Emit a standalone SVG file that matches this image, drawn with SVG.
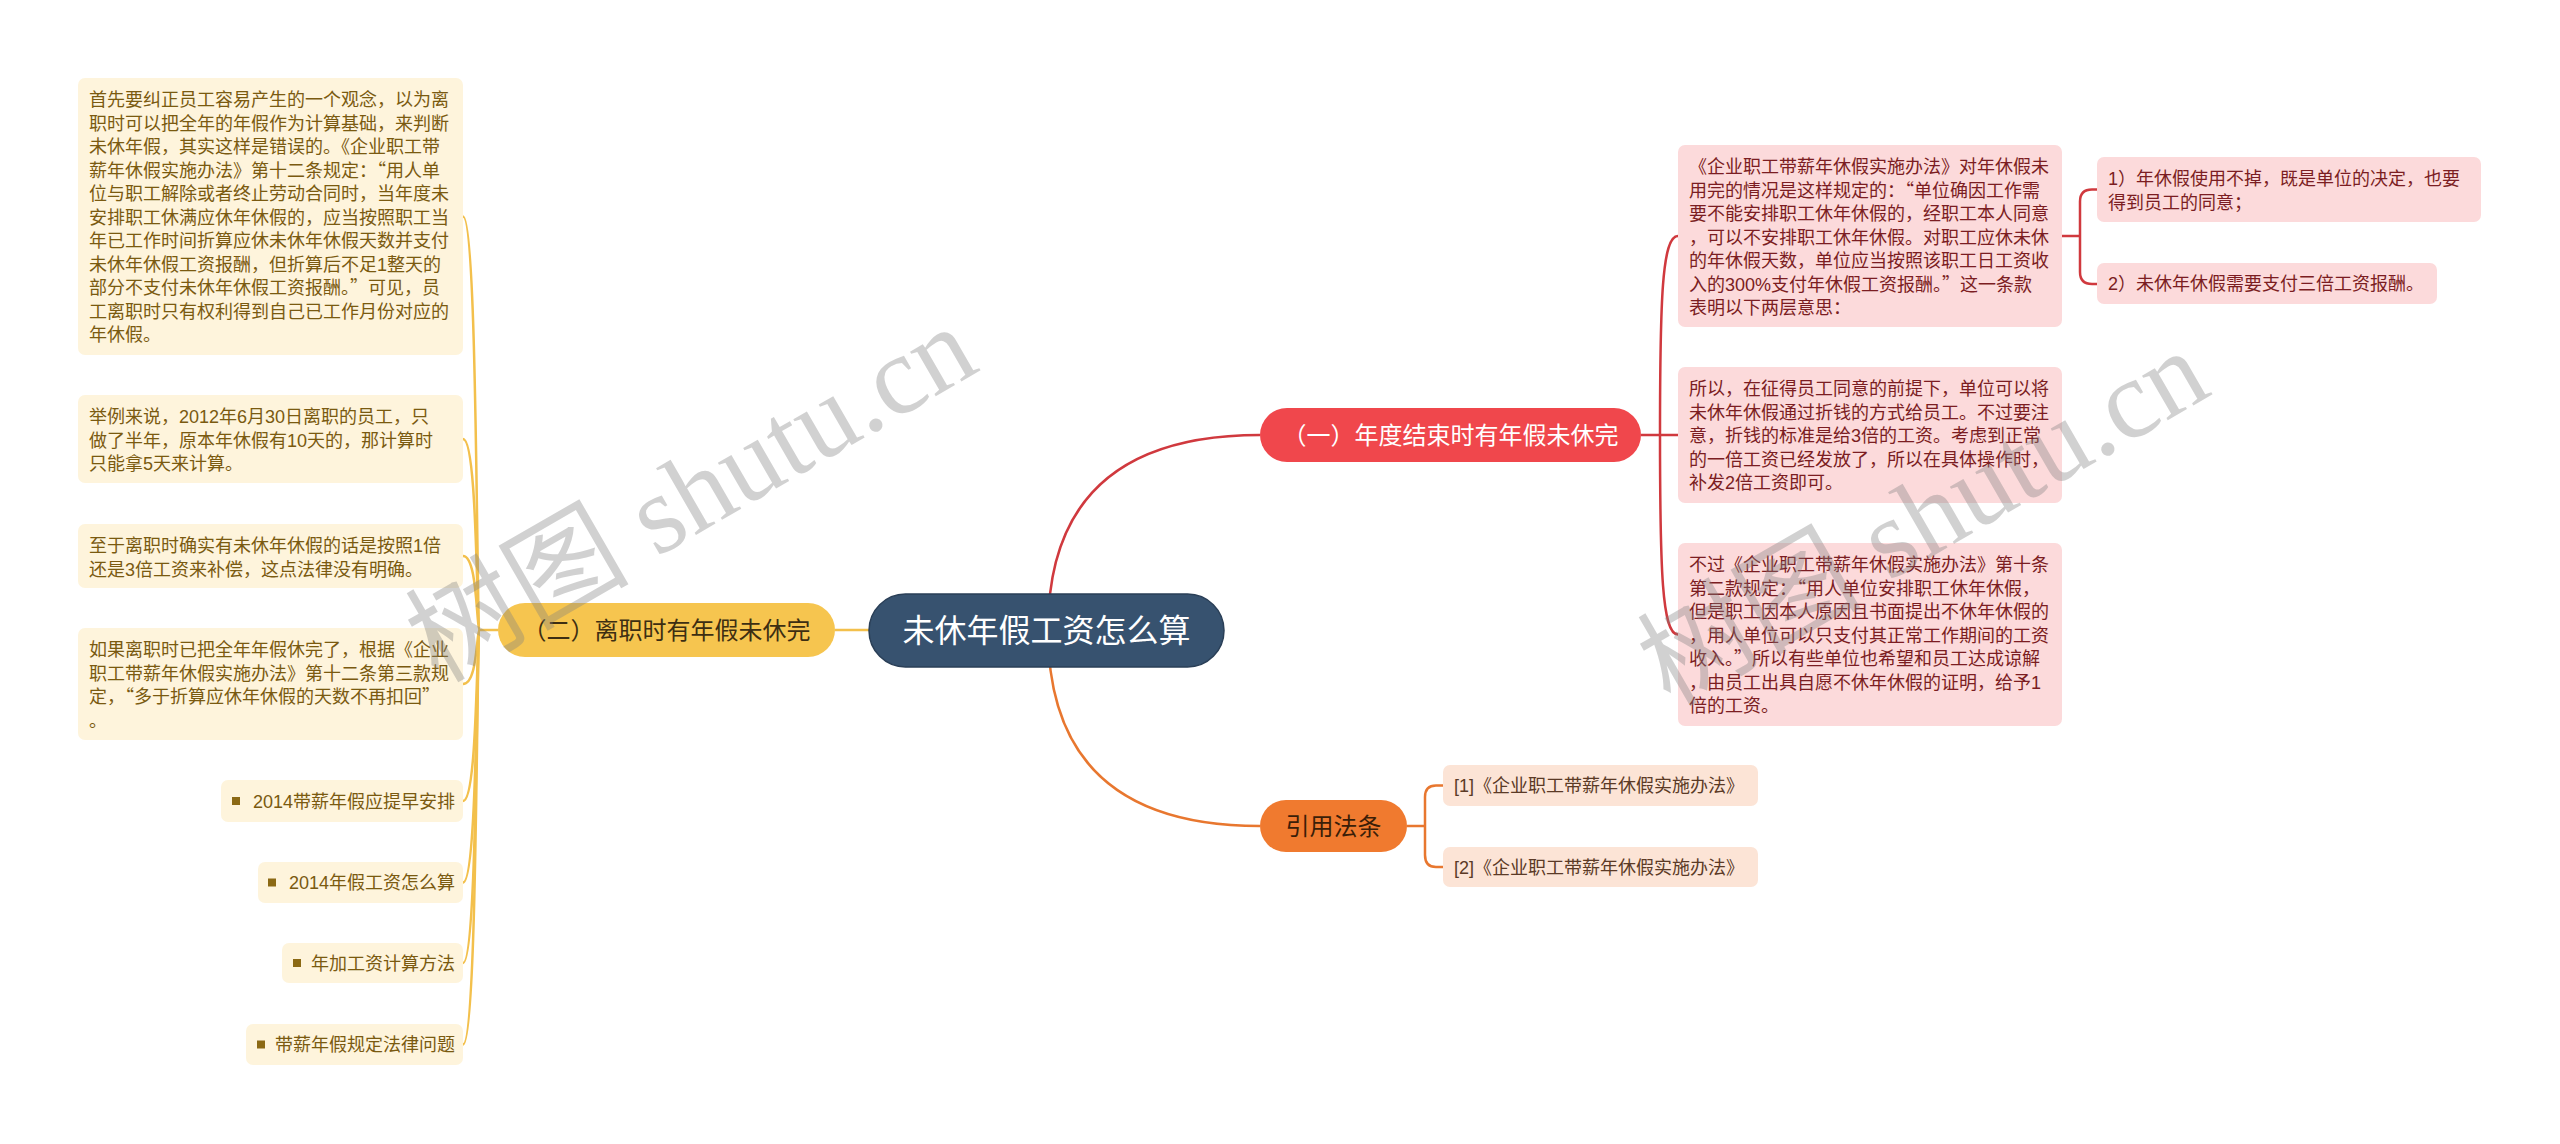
<svg xmlns="http://www.w3.org/2000/svg" width="2560" height="1144" viewBox="0 0 2560 1144">
<style>
text{font-family:"Liberation Sans","Noto Sans CJK SC",sans-serif;}
.q{font-family:"Noto Sans CJK SC",sans-serif;}
.t18{font-size:18px;}
.yc rect.box{fill:#FEF4DC;}
.yc text{fill:#7A5A10;}
.bul{fill:#8B6914;}
.rc rect{fill:#FCDADB;}
.rc text{fill:#7B1D22;}
.oc rect{fill:#FCE4D6;}
.oc text{fill:#5B3A26;}
.cy{fill:none;stroke:#F3C04C;stroke-width:2.5;}
.cr{fill:none;stroke:#D0393E;stroke-width:2.5;}
.co{fill:none;stroke:#E8772F;stroke-width:2.5;}
.wm{font-family:"Liberation Serif","Noto Sans CJK SC",serif;font-size:112px;fill:#7f7f7f;fill-opacity:0.36;}
</style>
<rect width="2560" height="1144" fill="#ffffff"/>

<g id="connectors">
  <path class="cy" stroke-width="3" d="M869,630 L835,630"/>
  <path class="cr" stroke="#D83A3A" stroke-width="3" d="M1048,630 Q1048,435 1260,435"/>
  <path class="co" stroke-width="3" d="M1048,630 Q1048,826 1260,826"/>
  <!-- yellow branch -->
  <path class="cy" d="M498,630 H480"/>
  <path class="cy" d="M480,630 C476,630 478,216.5 463,216.5"/>
  <path class="cy" d="M480,630 C476,630 478,439 463,439"/>
  <path class="cy" d="M480,630 C476,630 478,556 463,556"/>
  <path class="cy" d="M480,630 C476,630 478,684 463,684"/>
  <path class="cy" d="M480,630 C476,630 478,801 463,801"/>
  <path class="cy" d="M480,630 C476,630 478,882.5 463,882.5"/>
  <path class="cy" d="M480,630 C476,630 478,963 463,963"/>
  <path class="cy" d="M480,630 C476,630 478,1044.5 463,1044.5"/>
  <!-- red branch -->
  <path class="cr" d="M1641,435 H1678"/>
  <path class="cr" d="M1660,435 C1660,300 1662,236 1678,236"/>
  <path class="cr" d="M1660,435 C1660,570 1662,634.5 1678,634.5"/>
  <path class="cr" d="M2062,236 H2080"/>
  <path class="cr" d="M2080,236 V201.5 Q2080,189.5 2092,189.5 H2097"/>
  <path class="cr" d="M2080,236 V272 Q2080,284 2092,284 H2097"/>
  <!-- orange branch -->
  <path class="co" d="M1407,826 H1425"/>
  <path class="co" d="M1425,826 V797 Q1425,785.5 1436,785.5 H1443"/>
  <path class="co" d="M1425,826 V855 Q1425,867 1436,867 H1443"/>
</g>

<g id="root">
  <rect x="869" y="594" width="355" height="73" rx="36.5" fill="#37526F" stroke="#2A3F57" stroke-width="1.5"/>
  <text x="1046.5" y="641.5" font-size="32" fill="#ffffff" text-anchor="middle">未休年假工资怎么算</text>
</g>

<g id="branch-2">
  <rect x="498" y="603" width="337" height="54" rx="27" fill="#F6C54F"/>
  <text x="666.5" y="638.5" font-size="24" fill="#3D2E12" text-anchor="middle">（二）离职时有年假未休完</text>
</g>
<g id="branch-1">
  <rect x="1260" y="408" width="381" height="54" rx="27" fill="#F0474C"/>
  <text x="1450.5" y="443.5" font-size="24" fill="#ffffff" text-anchor="middle">（一）年度结束时有年假未休完</text>
</g>
<g id="branch-3">
  <rect x="1260" y="800" width="147" height="52" rx="26" fill="#F07A2F"/>
  <text x="1333.5" y="834.5" font-size="24" fill="#3B1E08" text-anchor="middle">引用法条</text>
</g>

<g id="a1" class="yc">
  <rect class="box" x="78" y="78" width="385" height="277" rx="7"/>
  <text class="t18" x="89" y="106">
    <tspan x="89">首先要纠正员工容易产生的一个观念，以为离</tspan>
    <tspan x="89" dy="23.5">职时可以把全年的年假作为计算基础，来判断</tspan>
    <tspan x="89" dy="23.5">未休年假，其实这样是错误的。《企业职工带</tspan>
    <tspan x="89" dy="23.5">薪年休假实施办法》第十二条规定：<tspan class="q">“</tspan>用人单</tspan>
    <tspan x="89" dy="23.5">位与职工解除或者终止劳动合同时，当年度未</tspan>
    <tspan x="89" dy="23.5">安排职工休满应休年休假的，应当按照职工当</tspan>
    <tspan x="89" dy="23.5">年已工作时间折算应休未休年休假天数并支付</tspan>
    <tspan x="89" dy="23.5">未休年休假工资报酬，但折算后不足1整天的</tspan>
    <tspan x="89" dy="23.5">部分不支付未休年休假工资报酬。<tspan class="q">”</tspan>可见，员</tspan>
    <tspan x="89" dy="23.5">工离职时只有权利得到自己已工作月份对应的</tspan>
    <tspan x="89" dy="23.5">年休假。</tspan>
  </text>
</g>
<g id="a2" class="yc">
  <rect class="box" x="78" y="395" width="385" height="88" rx="7"/>
  <text class="t18" x="89" y="423">
    <tspan x="89">举例来说，2012年6月30日离职的员工，只</tspan>
    <tspan x="89" dy="23.5">做了半年，原本年休假有10天的，那计算时</tspan>
    <tspan x="89" dy="23.5">只能拿5天来计算。</tspan>
  </text>
</g>
<g id="a3" class="yc">
  <rect class="box" x="78" y="524" width="385" height="64" rx="7"/>
  <text class="t18" x="89" y="552">
    <tspan x="89">至于离职时确实有未休年休假的话是按照1倍</tspan>
    <tspan x="89" dy="23.5">还是3倍工资来补偿，这点法律没有明确。</tspan>
  </text>
</g>
<g id="a4" class="yc">
  <rect class="box" x="78" y="628" width="385" height="112" rx="7"/>
  <text class="t18" x="89" y="656">
    <tspan x="89">如果离职时已把全年年假休完了，根据《企业</tspan>
    <tspan x="89" dy="23.5">职工带薪年休假实施办法》第十二条第三款规</tspan>
    <tspan x="89" dy="23.5">定，<tspan class="q">“</tspan>多于折算应休年休假的天数不再扣回<tspan class="q">”</tspan></tspan>
    <tspan x="89" dy="23.5">。</tspan>
  </text>
</g>
<g id="a5" class="yc">
  <rect class="box" x="221" y="780" width="242" height="42" rx="7"/>
  <rect class="bul" x="232" y="797" width="8" height="8"/>
  <text class="t18" x="455" y="807.5" text-anchor="end">2014带薪年假应提早安排</text>
</g>
<g id="a6" class="yc">
  <rect class="box" x="258" y="862" width="205" height="41" rx="7"/>
  <rect class="bul" x="268" y="878.5" width="8" height="8"/>
  <text class="t18" x="455" y="889" text-anchor="end">2014年假工资怎么算</text>
</g>
<g id="a7" class="yc">
  <rect class="box" x="282" y="943" width="181" height="40" rx="7"/>
  <rect class="bul" x="293" y="959" width="8" height="8"/>
  <text class="t18" x="455" y="969.5" text-anchor="end">年加工资计算方法</text>
</g>
<g id="a8" class="yc">
  <rect class="box" x="246" y="1024" width="217" height="41" rx="7"/>
  <rect class="bul" x="257" y="1040.5" width="8" height="8"/>
  <text class="t18" x="455" y="1051" text-anchor="end">带薪年假规定法律问题</text>
</g>

<g id="r1" class="rc">
  <rect x="1678" y="145" width="384" height="182" rx="7"/>
  <text class="t18" x="1689" y="173">
    <tspan x="1689">《企业职工带薪年休假实施办法》对年休假未</tspan>
    <tspan x="1689" dy="23.5">用完的情况是这样规定的：<tspan class="q">“</tspan>单位确因工作需</tspan>
    <tspan x="1689" dy="23.5">要不能安排职工休年休假的，经职工本人同意</tspan>
    <tspan x="1689" dy="23.5">，可以不安排职工休年休假。对职工应休未休</tspan>
    <tspan x="1689" dy="23.5">的年休假天数，单位应当按照该职工日工资收</tspan>
    <tspan x="1689" dy="23.5">入的300%支付年休假工资报酬。<tspan class="q">”</tspan>这一条款</tspan>
    <tspan x="1689" dy="23.5">表明以下两层意思：</tspan>
  </text>
</g>
<g id="r1a" class="rc">
  <rect x="2097" y="157" width="384" height="65" rx="7"/>
  <text class="t18" x="2108" y="185">
    <tspan x="2108">1）年休假使用不掉，既是单位的决定，也要</tspan>
    <tspan x="2108" dy="23.5">得到员工的同意；</tspan>
  </text>
</g>
<g id="r1b" class="rc">
  <rect x="2097" y="263" width="340" height="41" rx="7"/>
  <text class="t18" x="2108" y="290">2）未休年休假需要支付三倍工资报酬。</text>
</g>
<g id="r2" class="rc">
  <rect x="1678" y="367" width="384" height="136" rx="7"/>
  <text class="t18" x="1689" y="395">
    <tspan x="1689">所以，在征得员工同意的前提下，单位可以将</tspan>
    <tspan x="1689" dy="23.5">未休年休假通过折钱的方式给员工。不过要注</tspan>
    <tspan x="1689" dy="23.5">意，折钱的标准是给3倍的工资。考虑到正常</tspan>
    <tspan x="1689" dy="23.5">的一倍工资已经发放了，所以在具体操作时，</tspan>
    <tspan x="1689" dy="23.5">补发2倍工资即可。</tspan>
  </text>
</g>
<g id="r3" class="rc">
  <rect x="1678" y="543" width="384" height="183" rx="7"/>
  <text class="t18" x="1689" y="571">
    <tspan x="1689">不过《企业职工带薪年休假实施办法》第十条</tspan>
    <tspan x="1689" dy="23.5">第二款规定：<tspan class="q">“</tspan>用人单位安排职工休年休假，</tspan>
    <tspan x="1689" dy="23.5">但是职工因本人原因且书面提出不休年休假的</tspan>
    <tspan x="1689" dy="23.5">，用人单位可以只支付其正常工作期间的工资</tspan>
    <tspan x="1689" dy="23.5">收入。<tspan class="q">”</tspan>所以有些单位也希望和员工达成谅解</tspan>
    <tspan x="1689" dy="23.5">，由员工出具自愿不休年休假的证明，给予1</tspan>
    <tspan x="1689" dy="23.5">倍的工资。</tspan>
  </text>
</g>

<g id="ref1" class="oc">
  <rect x="1443" y="765" width="315" height="41" rx="7"/>
  <text class="t18" x="1454" y="792">[1]《企业职工带薪年休假实施办法》</text>
</g>
<g id="ref2" class="oc">
  <rect x="1443" y="847" width="315" height="40" rx="7"/>
  <text class="t18" x="1454" y="873.5">[2]《企业职工带薪年休假实施办法》</text>
</g>

<g id="watermarks">
  <text class="wm" transform="translate(690,492) rotate(-30)" x="0" y="40" text-anchor="middle">树图 shutu.cn</text>
  <text class="wm" transform="translate(1922,516) rotate(-30)" x="0" y="40" text-anchor="middle">树图 shutu.cn</text>
</g>
</svg>
